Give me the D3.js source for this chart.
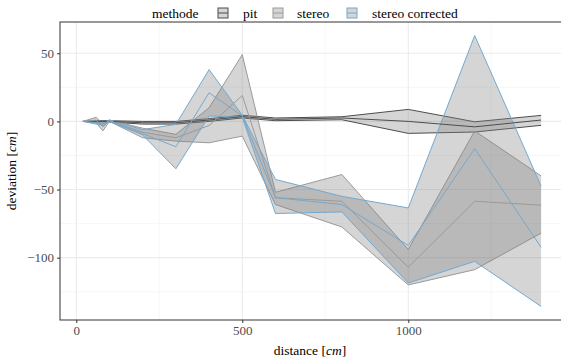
<!DOCTYPE html>
<html>
<head>
<meta charset="utf-8">
<script src="https://cdn.jsdelivr.net/npm/d3@7"></script>
<style>
  body { margin: 0; background: #fff; }
  svg { display: block; font-family: "Liberation Serif", "DejaVu Serif", serif; }
</style>
</head>
<body>
<svg id="chart" width="561" height="360"></svg>
<script>
// measurement points (cm)
const distance = [20, 60, 80, 100, 200, 300, 400, 500, 600, 800, 1000, 1200, 1400];

const methods = ["pit", "stereo", "stereo corrected"];

// deviation per method: mean, lower and upper bound (cm)
const pitMean  = [0, 0, 0, 0, -1, -1, 1, 3.5, 1.5, 2.5, 0, -4, 1];
const pitLow   = [0, -0.5, -0.5, -0.5, -2, -2, 0, 2.5, 0.5, 1.2, -8.8, -7.8, -2.9];
const pitHigh  = [0, 0.5, 0.5, 0.5, 0, 0, 2, 4.5, 2.5, 3.4, 8.8, -0.3, 4.4];

const stereoMean = [0, 1, -4, 0.5, -8, -12, -3, 19, -56, -58.6, -107, -58.6, -61.5];
const stereoLow  = [0, -1, -7, 0, -12, -14.5, -15.7, -10.8, -61, -77.5, -120, -108.8, -82];
const stereoHigh = [0, 3, -2, 1, -5, -9.5, 10, 49, -52, -39, -94, -7, -40];

const corrMean = [0, -1, -2, 0.5, -9, -18.6, 21, 4, -56, -61, -91, -20, -92.4];
const corrLow  = [0, -2, -3, 0, -10, -34.8, 4, 3, -67.6, -66.4, -118.6, -102.7, -135.8];
const corrHigh = [0, 0, -1, 1, -6, -2.2, 38, 4.5, -42.6, -55, -63.5, 63, -47.5];

const colors = ["#4d4d4d", "#9a9a9a", "#74a9cf"];

const xTicks = [0, 500, 1000];
const yTicks = [50, 0, -50, -100];

const series = [
  {name: methods[0], mean: pitMean, low: pitLow, high: pitHigh, color: colors[0]},
  {name: methods[1], mean: stereoMean, low: stereoLow, high: stereoHigh, color: colors[1]},
  {name: methods[2], mean: corrMean, low: corrLow, high: corrHigh, color: colors[2]}
];

const panel = {left: 60, right: 564, top: 22, bottom: 320};

const svg = d3.select("#chart");

// scales with 5% expansion like ggplot
let xMin = d3.min(distance), xMax = d3.max(distance);
let xPad = (xMax - xMin) * 0.05;
let x = d3.scaleLinear()
  .domain([xMin - xPad, xMax + xPad])
  .range([panel.left, panel.right]);

let allY = [].concat(...series.map(s => s.low.concat(s.high)));
let yMin = d3.min(allY), yMax = d3.max(allY);
let yPad = (yMax - yMin) * 0.05;
let y = d3.scaleLinear()
  .domain([yMin - yPad, yMax + yPad])
  .range([panel.bottom, panel.top]);

// grid
let grid = svg.append("g");
let xMinor = [250, 750, 1250];
let yMinor = [25, -25, -75, -125];
grid.selectAll(".xminor").data(xMinor).enter().append("line")
  .attr("x1", d => x(d)).attr("x2", d => x(d))
  .attr("y1", panel.top).attr("y2", panel.bottom)
  .attr("stroke", "#f2f2f2").attr("stroke-width", 0.6);
grid.selectAll(".yminor").data(yMinor).enter().append("line")
  .attr("y1", d => y(d)).attr("y2", d => y(d))
  .attr("x1", panel.left).attr("x2", panel.right)
  .attr("stroke", "#f2f2f2").attr("stroke-width", 0.6);
grid.selectAll(".xmajor").data(xTicks).enter().append("line")
  .attr("x1", d => x(d)).attr("x2", d => x(d))
  .attr("y1", panel.top).attr("y2", panel.bottom)
  .attr("stroke", "#ebebeb").attr("stroke-width", 1.1);
grid.selectAll(".ymajor").data(yTicks).enter().append("line")
  .attr("y1", d => y(d)).attr("y2", d => y(d))
  .attr("x1", panel.left).attr("x2", panel.right)
  .attr("stroke", "#ebebeb").attr("stroke-width", 1.1);

// ribbons
let area = d3.area()
  .x((d, i) => x(distance[i]))
  .y0(d => y(d[0]))
  .y1(d => y(d[1]));
let line = d3.line()
  .x((d, i) => x(distance[i]))
  .y(d => y(d));

let plot = svg.append("g");
for (let s of series) {
  let pairs = s.low.map((v, i) => [v, s.high[i]]);
  plot.append("path")
    .attr("d", area(pairs))
    .attr("fill", "#7f7f7f")
    .attr("fill-opacity", 0.33)
    .attr("stroke", "none");
  plot.append("path").attr("d", line(s.low))
    .attr("fill", "none").attr("stroke", s.color).attr("stroke-width", 1);
  plot.append("path").attr("d", line(s.high))
    .attr("fill", "none").attr("stroke", s.color).attr("stroke-width", 1);
}
for (let s of series) {
  plot.append("path").attr("d", line(s.mean))
    .attr("fill", "none").attr("stroke", s.color).attr("stroke-width", 1);
}

// panel border
svg.append("rect")
  .attr("x", panel.left).attr("y", panel.top)
  .attr("width", panel.right - panel.left)
  .attr("height", panel.bottom - panel.top)
  .attr("fill", "none").attr("stroke", "#333333").attr("stroke-width", 1);

// axes
let xAxis = svg.append("g")
  .attr("transform", "translate(0," + panel.bottom + ")")
  .call(d3.axisBottom(x).tickValues(xTicks).tickFormat(d3.format("d"))
    .tickSize(3).tickPadding(3));
let yAxis = svg.append("g")
  .attr("transform", "translate(" + panel.left + ",0)")
  .call(d3.axisLeft(y).tickValues(yTicks).tickFormat(d3.format("d"))
    .tickSize(3).tickPadding(3));
for (let ax of [xAxis, yAxis]) {
  ax.attr("font-family", null);
  ax.select(".domain").remove();
  ax.selectAll("line").attr("stroke", "#333333");
  ax.selectAll("text")
    .attr("fill", "#4d4d4d")
    .style("font-size", "13px");
}

// axis titles
let xt = svg.append("text")
  .attr("x", 310).attr("y", 355)
  .attr("text-anchor", "middle")
  .style("font-size", "13.5px");
xt.append("tspan").text("distance [");
xt.append("tspan").style("font-style", "italic").text("cm");
xt.append("tspan").text("]");

let yt = svg.append("text")
  .attr("transform", "translate(16," + ((panel.top + panel.bottom) / 2) + ") rotate(-90)")
  .attr("text-anchor", "middle")
  .style("font-size", "13.5px");
yt.append("tspan").text("deviation [");
yt.append("tspan").style("font-style", "italic").text("cm");
yt.append("tspan").text("]");

// legend
let legend = svg.append("g");
legend.append("text").attr("x", 152).attr("y", 17.5)
  .style("font-size", "13.5px").text("methode");
let keyX = [218, 273, 347];
let labelX = [243, 297, 372];
series.forEach(function(s, i) {
  let g = legend.append("g");
  g.append("rect")
    .attr("x", keyX[i]).attr("y", 8)
    .attr("width", 10).attr("height", 10)
    .attr("fill", "#7f7f7f").attr("fill-opacity", 0.33)
    .attr("stroke", s.color).attr("stroke-width", 1);
  g.append("line")
    .attr("x1", keyX[i]).attr("x2", keyX[i] + 10)
    .attr("y1", 13).attr("y2", 13)
    .attr("stroke", s.color).attr("stroke-width", 1);
  g.append("text").attr("x", labelX[i]).attr("y", 17.5)
    .style("font-size", "13.5px").text(s.name);
});
</script>
</body>
</html>
